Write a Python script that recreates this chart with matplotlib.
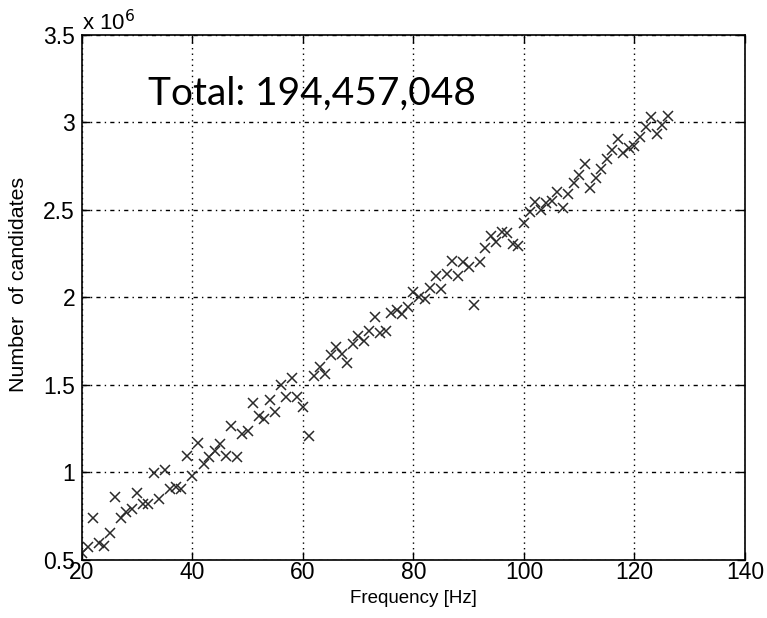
import matplotlib
matplotlib.use("Agg")
import matplotlib.pyplot as plt
import numpy as np

# Candidate counts per 1 Hz frequency band (units of 1e6)
frequency_hz = list(range(20, 127))
candidates_millions = [
    0.538, 0.576, 0.742, 0.599, 0.582, 0.656, 0.860, 0.742, 0.774, 0.790,   # 20-29
    0.883, 0.818, 0.818, 0.995, 0.847, 1.014, 0.904, 0.915, 0.904, 1.096,   # 30-39
    0.978, 1.170, 1.047, 1.090, 1.125, 1.162, 1.095, 1.266, 1.090, 1.220,   # 40-49
    1.235, 1.395, 1.322, 1.304, 1.412, 1.347, 1.499, 1.430, 1.537, 1.430,   # 50-59
    1.375, 1.207, 1.553, 1.605, 1.561, 1.671, 1.715, 1.675, 1.627, 1.733,   # 60-69
    1.780, 1.751, 1.809, 1.890, 1.795, 1.810, 1.913, 1.929, 1.906, 1.947,   # 70-79
    2.030, 2.005, 1.990, 2.053, 2.125, 2.047, 2.134, 2.210, 2.123, 2.205,   # 80-89
    2.172, 1.957, 2.205, 2.285, 2.353, 2.319, 2.372, 2.370, 2.306, 2.294,   # 90-99
    2.425, 2.488, 2.548, 2.500, 2.538, 2.553, 2.605, 2.510, 2.591, 2.652,   # 100-109
    2.700, 2.761, 2.627, 2.681, 2.734, 2.790, 2.843, 2.904, 2.824, 2.857,   # 110-119
    2.866, 2.915, 2.976, 3.033, 2.933, 2.986, 3.039,                        # 120-126
]
x_ticks = [20, 40, 60, 80, 100, 120, 140]
y_ticks = [0.5, 1, 1.5, 2, 2.5, 3, 3.5]
total_label = "Total: 194,457,048"

plt.rcParams["font.family"] = ["Liberation Sans", "DejaVu Sans"]

fig = plt.figure(figsize=(7.67, 6.18), dpi=100)
ax = fig.add_axes([0.1069, 0.0939, 0.8644, 0.8495])

ax.plot(frequency_hz, np.array(candidates_millions), linestyle="none",
        marker="x", markersize=6.5, markeredgewidth=1.1, color="#2a2a2a")

ax.set_xlim(20, 140)
ax.set_ylim(0.5, 3.5)
ax.set_xticks(x_ticks)
ax.set_yticks(y_ticks)
ax.set_xticklabels([str(v) for v in x_ticks])
ax.set_yticklabels([f"{v:g}" for v in y_ticks])

ax.tick_params(direction="in", length=6, width=1, top=True, right=True,
               labelsize=16.5, colors="black")
ax.tick_params(axis="x", pad=1)
ax.tick_params(axis="y", pad=5)
for side in ax.spines.values():
    side.set_linewidth(1.2)
    side.set_color("black")

ax.set_axisbelow(True)
ax.xaxis.grid(True, color="black", linewidth=1.0, linestyle=(0, (1, 3)))
ax.yaxis.grid(True, color="black", linewidth=1.0, linestyle=(0, (3, 3, 1, 3)))

ax.set_xlabel("Frequency [Hz]", fontsize=13.5, labelpad=4)
ax.set_ylabel("Number  of candidates", fontsize=15.4)
ax.yaxis.set_label_coords(-0.081, 0.524)

# Exponent multiplier above the y axis
ax.text(0.0, 1.0, r"x 10$^{6}$", transform=ax.transAxes, fontsize=16,
        ha="left", va="bottom")

ax.text(0.0995, 0.889, total_label, transform=ax.transAxes, fontsize=28,
        family=["Lato", "DejaVu Sans"], ha="left", va="center")

fig.savefig("out.png", dpi=100)
